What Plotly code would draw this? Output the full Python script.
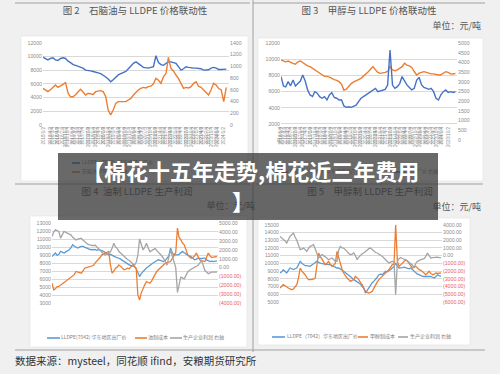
import plotly.graph_objects as go
import pandas as pd

# ---------------- data ----------------
# 图2: LLDPE (left, 元/吨) vs naphtha (right, 美元/吨), monthly 2018-01 .. 2024-02
months_fig2 = pd.date_range("2018-01-01", periods=74, freq="MS")
lldpe_fig2 = [
    9900, 9700, 9500, 9700, 9800, 9500, 9400, 9700, 9800, 9700, 9300, 9100,
    8800, 8700, 8600, 8500, 8300, 8000, 8000, 7900, 7800, 7750, 7600, 7500,
    7300, 7000, 6700, 6300, 6600, 7000, 7300, 7500, 7600, 7800, 8200, 8600,
    9000, 9200, 9000, 8700, 8400, 8300, 8300, 8400, 8500, 10100, 9100, 8800,
    8700, 9000, 9200, 9200, 9100, 9000, 8500, 8000, 8200, 8500, 8400, 8300,
    8300, 8300, 8300, 8200, 8000, 8000, 8050, 8300, 8400, 8300, 8100, 8100,
    8100, 8150,
]
naphtha_fig2 = [
    624, 600, 567, 600, 640, 680, 640, 660, 690, 720, 540, 480,
    480, 520, 560, 607, 560, 510, 540, 530, 520, 567, 580, 585,
    567, 480, 255, 170, 255, 368, 397, 400, 390, 397, 425, 453,
    510, 560, 595, 624, 640, 630, 652, 660, 700, 794, 760, 709,
    822, 879, 1151, 964, 920, 850, 794, 709, 624, 640, 630, 652,
    709, 737, 660, 640, 595, 540, 510, 600, 709, 680, 620, 600,
    397, 640,
]

# 图3: LLDPE (left) vs methanol (right), monthly 2018-01 .. 2024-01
months_fig3 = pd.date_range("2018-01-01", periods=73, freq="MS")
lldpe_fig3 = [
    9930, 9800, 9700, 9800, 9600, 9500, 9400, 9700, 9800, 9600, 9300, 9200,
    9100, 8900, 8700, 8600, 8300, 8100, 7900, 7900, 7800, 7700, 7500, 7400,
    7240, 6900, 6200, 6300, 6700, 7000, 7200, 7400, 7500, 7650, 7900, 8200,
    8480, 8800, 9100, 8700, 8400, 8270, 8300, 8400, 8500, 9100, 8700, 8600,
    8700, 8900, 9100, 9520, 9300, 9200, 9000, 8500, 8070, 8300, 8400, 8480,
    8400, 8300, 8200, 8200, 8100, 8070, 8100, 8300, 8480, 8400, 8200, 8190,
    8270,
]
methanol_fig3 = [
    3280, 2790, 2750, 3020, 2800, 3100, 2790, 2900, 3050, 3360, 3050, 2590,
    2330, 2250, 2500, 2420, 2240, 2160, 2240, 2070, 2330, 2450, 2200, 2160,
    2070, 2070, 1760, 1690, 1720, 1690, 1760, 1800, 1980, 2160, 2240, 2330,
    2380, 2500, 2590, 2670, 2500, 2550, 2590, 2620, 2840, 4655, 2840, 2670,
    2760, 2930, 3280, 3020, 2850, 2720, 2590, 2670, 3100, 3240, 2850, 2720,
    2670, 2620, 2670, 2500, 2160, 2070, 2330, 2500, 2590, 2460, 2500, 2460,
    2500,
]

# 图4 / 图5: monthly 2016-01 .. 2024-01
months_fig45 = pd.date_range("2016-01-01", periods=97, freq="MS")
lldpe_fig4 = [
    8830, 9000, 9250, 8960, 9100, 9460, 9350, 9250, 9400, 9500, 9670, 9900,
    10290, 10100, 9950, 9875, 10000, 10100, 10080, 9950, 9875, 9800, 9700, 9650,
    9670, 9700, 9600, 9670, 9650, 9550, 9460, 9300, 9200, 9040, 9100, 8950,
    8830, 8750, 8700, 8620, 8500, 8350, 8200, 8000, 7900, 7790, 7700, 7650,
    7580, 7300, 6700, 6330, 6700, 7000, 7170, 7400, 7600, 7790, 7900, 8050,
    8200, 8300, 8420, 8350, 8250, 8200, 8350, 8620, 8900, 9875, 9300, 9040,
    9000, 9040, 9100, 9300, 9460, 9300, 9120, 9000, 8900, 8830, 8600, 8420,
    8500, 8620, 8600, 8550, 8620, 8620, 8400, 8300, 8200, 8250, 8200, 8250,
    8280,
]
oil_cost_fig4 = [
    5500, 4670, 4800, 5080, 5100, 5300, 5500, 5600, 5750, 5920, 6000, 6150,
    6330, 6600, 6960, 6900, 6850, 6750, 7000, 7375, 7450, 7500, 7580, 7650,
    7700, 8000, 8200, 8420, 8700, 9040, 9150, 9250, 9400, 9460, 7790, 6750,
    7000, 7375, 7500, 7790, 7600, 7400, 7170, 7250, 7375, 7300, 7500, 7790,
    7600, 7375, 4040, 3420, 4300, 4880, 5300, 5710, 5600, 5500, 5800, 6125,
    6600, 7000, 7170, 7375, 7500, 7800, 8000, 8100, 8200, 8200, 8600, 9040,
    9300, 12375, 11200, 10900, 10500, 10290, 9600, 9040, 8800, 8620, 8700, 8900,
    9250, 8900, 8420, 8300, 8250, 8200, 8700, 9250, 8900, 8700, 8750, 8800,
    8830,
]
profit_fig4 = [
    3480, 4000, 4240, 4100, 4050, 3300, 3700, 4050, 3950, 3860, 3750, 3670,
    3400, 3200, 3100, 3200, 3250, 3300, 3100, 2920, 2700, 2600, 2540, 2500,
    2450, 2540, 2300, 2150, 1970, 1700, 1500, 1400, 1500, 1600, 1780, 2200,
    2730, 2300, 2160, 1800, 1600, 1400, 1200, 1020, 900, 800, 640, 500,
    270, 600, 1400, 3220, 2500, 1970, 2300, 2730, 2200, 1780, 1900, 2050,
    2160, 1900, 1700, 1590, 1300, 1020, 600, 270, 1200, 1970, 1300, 640,
    0, -2770, -1800, -1060, -1150, -1250, -900, -490, -300, -200, -110, 0,
    100, 270, 500, 830, 300, -300, -500, -680, -600, -490, -500, -500,
    -490,
]
lldpe_fig5 = [
    8750, 8900, 9180, 9000, 8750, 9100, 9400, 9300, 9200, 9300, 9400, 9800,
    10260, 10000, 9830, 9700, 9700, 9650, 9610, 9800, 9900, 10100, 10260, 10100,
    10040, 9950, 9900, 9850, 9830, 9830, 9830, 9700, 9610, 9500, 9400, 9400,
    9300, 9100, 8970, 8800, 8700, 8530, 8300, 8100, 7890, 7700, 7600, 7460,
    7300, 7000, 6810, 6160, 6500, 6900, 7240, 7500, 7700, 7890, 8200, 8530,
    8600, 8530, 8700, 8970, 8900, 9000, 9200, 9400, 9600, 10040, 9600, 9400,
    9400, 9450, 9500, 9450, 9400, 9300, 9400, 9200, 8970, 8800, 8600, 8530,
    8400, 8320, 8300, 8300, 8320, 8300, 8320, 8200, 8100, 8300, 8530, 8400,
    8320,
]
mto_cost_fig5 = [
    6810, 7000, 7240, 7100, 6900, 6810, 6700, 6590, 6700, 6900, 7240, 8100,
    9400, 9000, 8800, 8530, 8200, 7890, 7890, 7890, 7950, 8100, 9500, 11340,
    10900, 10470, 10100, 9830, 10000, 10260, 9900, 9610, 9800, 10000, 11550, 10690,
    10000, 9200, 8750, 8400, 8100, 7900, 7670, 7800, 7900, 8320, 8100, 7900,
    7500, 7240, 6800, 6380, 6250, 6160, 6250, 6380, 6800, 7240, 7600, 7890,
    8100, 8320, 8500, 8750, 8950, 9180, 9500, 9830, 9900, 15000, 10260, 9610,
    9800, 10040, 10200, 10470, 10300, 10040, 9700, 9400, 9500, 9610, 9400, 9180,
    9100, 8970, 8750, 8530, 8700, 8970, 8700, 8530, 8600, 8750, 8700, 8700,
    8750,
]
profit_fig5 = [
    2490, 2300, 2190, 1900, 1630, 2100, 2490, 2700, 2920, 2400, 2000, 1400,
    770, 850, 980, 800, 550, 900, 1200, 1300, 1410, 900, 300, -310,
    -100, 120, 0, -100, -300, -530, -400, -300, -500, -740, -740, 700,
    1200, 1000, 980, 800, 550, 300, 120, 200, 340, 0, -530, -200,
    100, 250, 340, 550, 770, 900, 980, 800, 550, 400, 340, 200,
    100, -100, -300, -530, -700, -960, -850, -740, -800, -5050, -740, -400,
    -250, -400, -500, -600, -700, -850, -960, -1200, -1600, -1000, -740, -600,
    -530, -450, -400, -100, 340, 0, -300, -250, -200, -200, -200, -250,
    -300,
]

# tick labels
tick_months_fig2 = pd.date_range("2018-01-01", periods=25, freq="3MS")
tick_labels_fig2 = [f"{d.year}/{d.month}/2" for d in tick_months_fig2]
tick_months_fig3 = pd.date_range("2018-01-01", periods=24, freq="3MS")
tick_labels_fig3 = [f"{d.year}/{d.month}/2" for d in tick_months_fig3]
tick_months_fig45 = pd.date_range("2016-01-01", periods=33, freq="3MS")
tick_labels_fig45 = [f"{d.year}/{d.month}/4" for d in tick_months_fig45]

right_vals_fig4 = list(range(-4000, 5001, 1000))
right_vals_fig5 = list(range(-6000, 4001, 1000))

# ---------------- styling helpers ----------------
W, H = 500, 374
def px(x): return x / W
def py(y): return 1 - y / H

BLUE_D = "#4472c4"
BLUE_L = "#5b9bd5"
ORANGE = "#ed7d31"
GRAY = "#a5a5a5"
TICKC = "#8c8c8c"
TFONT = "Liberation Sans"
CJK = "Noto Sans CJK SC"

def fmt_right(v):
    if v < 0:
        return f"<span style='color:#e8615f'>({abs(v):.2f})</span>"
    return f"{v:.2f}"

fig = go.Figure()

# ---- chart traces ----
fig.add_trace(go.Scatter(x=months_fig2, y=lldpe_fig2, mode="lines", line=dict(color=BLUE_D, width=1.4),
                         xaxis="x", yaxis="y", name="LLDPE"))
fig.add_trace(go.Scatter(x=months_fig2, y=naphtha_fig2, mode="lines", line=dict(color=ORANGE, width=1.4),
                         xaxis="x", yaxis="y2", name="石脑油"))
fig.add_trace(go.Scatter(x=months_fig3, y=lldpe_fig3, mode="lines", line=dict(color=ORANGE, width=1.4),
                         xaxis="x2", yaxis="y3", name="LLDPE"))
fig.add_trace(go.Scatter(x=months_fig3, y=methanol_fig3, mode="lines", line=dict(color=BLUE_D, width=1.4),
                         xaxis="x2", yaxis="y4", name="甲醇"))
fig.add_trace(go.Scatter(x=months_fig45, y=lldpe_fig4, mode="lines", line=dict(color=BLUE_L, width=1.3),
                         xaxis="x3", yaxis="y5", name="LLDPE(7042) 华东地区出厂价"))
fig.add_trace(go.Scatter(x=months_fig45, y=oil_cost_fig4, mode="lines", line=dict(color=ORANGE, width=1.3),
                         xaxis="x3", yaxis="y5", name="油制成本"))
fig.add_trace(go.Scatter(x=months_fig45, y=profit_fig4, mode="lines", line=dict(color=GRAY, width=1.3),
                         xaxis="x3", yaxis="y6", name="生产企业利润 右轴"))
fig.add_trace(go.Scatter(x=months_fig45, y=lldpe_fig5, mode="lines", line=dict(color=BLUE_L, width=1.3),
                         xaxis="x4", yaxis="y7", name="LLDPE（7042）华东地区出厂价"))
fig.add_trace(go.Scatter(x=months_fig45, y=mto_cost_fig5, mode="lines", line=dict(color=ORANGE, width=1.3),
                         xaxis="x4", yaxis="y7", name="甲醇制成本"))
fig.add_trace(go.Scatter(x=months_fig45, y=profit_fig5, mode="lines", line=dict(color=GRAY, width=1.3),
                         xaxis="x4", yaxis="y8", name="生产企业利润 右轴"))

# ---- page texts (drawn as text on a hidden full-page axis so the banner covers them) ----
def add_text(x, y, text, size, color, pos, family=CJK):
    fig.add_trace(go.Scatter(x=[x], y=[y], mode="text", text=[text], textposition=pos,
                             textfont=dict(size=size, color=color, family=family),
                             xaxis="x5", yaxis="y9", hoverinfo="skip", cliponaxis=False))

TITLE_C = "#555555"
add_text(135, 12, "图 2　石脑油与 LLDPE 价格联动性", 9.5, TITLE_C, "middle center")
add_text(369, 12, "图 3　甲醇与 LLDPE 价格联动性", 9.5, TITLE_C, "middle center")
add_text(481, 27, "单位：元/吨", 9, TITLE_C, "middle left")
add_text(137, 193, "图 4  油制 LLDPE 生产利润", 9.5, TITLE_C, "middle center")
add_text(255, 207, "单位：元/吨", 9, TITLE_C, "middle left")
add_text(370, 193, "图 5　甲醇制 LLDPE 生产利润", 9.5, TITLE_C, "middle center")
add_text(481, 208, "单位：元/吨", 9, TITLE_C, "middle left")
add_text(15, 362, "数据来源：mysteel，同花顺 ifind，安粮期货研究所", 10.5, "#333333", "middle right")

LEG_C = "#7f7f7f"
# legends
add_text(82, 163, "LLDPE（7042）华东地区出厂价", 5, LEG_C, "middle right")
add_text(82, 172, "石脑油CFR日本 右轴", 5, LEG_C, "middle right")
add_text(290, 172, "LLDPE（7042）华东地区出厂价", 5, LEG_C, "middle right")
add_text(402, 172, "甲醇出厂价 右轴", 5, LEG_C, "middle right")
add_text(61, 338, "LLDPE(7042) 华东地区出厂价", 5, LEG_C, "middle right")
add_text(148, 338, "油制成本", 5, LEG_C, "middle right")
add_text(183, 338, "生产企业利润 右轴", 5, LEG_C, "middle right")
add_text(287, 337, "LLDPE（7042）华东地区出厂价", 5, LEG_C, "middle right")
add_text(370, 337, "甲醇制成本", 5, LEG_C, "middle right")
add_text(410, 337, "生产企业利润 右轴", 5, LEG_C, "middle right")

# ---- shapes ----
shapes = []
def line(x0, y0, x1, y1, color, width, layer="below"):
    shapes.append(dict(type="line", xref="paper", yref="paper", x0=px(x0), y0=py(y0), x1=px(x1), y1=py(y1),
                       line=dict(color=color, width=width), layer=layer))
def rect(x0, y0, x1, y1, fill, lc="rgba(0,0,0,0)", lw=0, layer="below"):
    shapes.append(dict(type="rect", xref="paper", yref="paper", x0=px(x0), y0=py(y0), x1=px(x1), y1=py(y1),
                       fillcolor=fill, line=dict(color=lc, width=lw), layer=layer))

SEP = "#a0a0a0"
line(15, 3, 250, 3, SEP, 1)
line(253, 3, 485, 3, SEP, 1)
line(253, 0, 253, 352, SEP, 1)
line(15, 184, 250, 184, SEP, 1)
line(256, 184, 483, 184, SEP, 1)
line(15, 350, 485, 350, SEP, 1)
rect(21, 36, 248, 181, "white", "#e3e3e3", 0.6)
rect(258, 38, 483, 181, "white", "#e3e3e3", 0.6)
rect(30, 216, 247, 347, "white", "#e3e3e3", 0.6)
rect(258, 218, 470, 345, "white", "#e3e3e3", 0.6)
# legend swatches
line(72, 163, 80, 163, BLUE_D, 1.6)
line(72, 172, 80, 172, ORANGE, 1.6)
line(276, 172, 288, 172, ORANGE, 1.6)
line(390, 172, 400, 172, BLUE_D, 1.6)
line(47, 338, 60, 338, BLUE_L, 1.6)
line(135, 338, 147, 338, ORANGE, 1.6)
line(170, 338, 182, 338, GRAY, 1.6)
line(272, 337, 285, 337, BLUE_L, 1.6)
line(358, 337, 368, 337, ORANGE, 1.6)
line(398, 337, 408, 337, GRAY, 1.6)
# overlay banner
rect(58, 153, 438, 220, "rgba(58,58,58,0.76)", layer="above")

# ---- axes ----
def xax(dom, rng, tv, tt):
    return dict(domain=[px(dom[0]), px(dom[1])], range=rng, type="date", showgrid=False, zeroline=False,
                showline=False, ticks="", tickvals=list(tv), ticktext=tt, tickangle=-90,
                tickfont=dict(size=4.5, color=TICKC, family=TFONT), automargin=False, fixedrange=True)

def yleft(dom, rng, dtick, anchor):
    return dict(domain=[py(dom[1]), py(dom[0])], range=rng, dtick=dtick, tick0=0, tickformat="d",
                showgrid=True, gridcolor="#d9d9d9", gridwidth=0.7, zeroline=False, showline=False, ticks="",
                tickfont=dict(size=5.2, color=TICKC, family=TFONT), anchor=anchor, automargin=False,
                fixedrange=True)

def yright(overlay, rng, anchor, dtick=None, tv=None, tt=None):
    d = dict(overlaying=overlay, side="right", range=rng, showgrid=False, zeroline=False, showline=False,
             ticks="", tickfont=dict(size=5.2, color=TICKC, family=TFONT), anchor=anchor, automargin=False,
             fixedrange=True)
    if tv is not None:
        d.update(tickvals=tv, ticktext=tt)
    else:
        d.update(dtick=dtick, tick0=0, tickformat="d")
    return d

fig.update_layout(
    width=W, height=H, autosize=False,
    margin=dict(l=0, r=0, t=0, b=0, pad=0),
    paper_bgcolor="#f0f0f0", plot_bgcolor="rgba(0,0,0,0)",
    showlegend=False, hovermode=False,
    shapes=shapes,
    xaxis=xax((43, 229), ["2018-01-01", "2024-03-05"], tick_months_fig2 + pd.Timedelta(days=1), tick_labels_fig2),
    yaxis=yleft((42.7, 125), [0, 12000], 2000, "x"),
    yaxis2=yright("y", [0, 1400], "x", dtick=200),
    xaxis2=xax((281, 457), ["2018-01-01", "2024-01-20"], tick_months_fig3 + pd.Timedelta(days=1), tick_labels_fig3),
    yaxis3=yleft((43.3, 140), [0, 12000], 2000, "x2"),
    yaxis4=yright("y3", [0, 5000], "x2", dtick=500),
    xaxis3=xax((52, 218), ["2016-01-01", "2024-01-20"], tick_months_fig45 + pd.Timedelta(days=3), tick_labels_fig45),
    yaxis5=yleft((223, 303.3), [3000, 13000], 1000, "x3"),
    yaxis6=yright("y5", [-4000, 5000], "x3", tv=right_vals_fig4, tt=[fmt_right(v) for v in right_vals_fig4]),
    xaxis4=xax((280, 442), ["2016-01-01", "2024-01-20"], tick_months_fig45 + pd.Timedelta(days=3), tick_labels_fig45),
    yaxis7=yleft((224.7, 302), [5000, 15000], 1000, "x4"),
    yaxis8=yright("y7", [-6000, 4000], "x4", tv=right_vals_fig5, tt=[fmt_right(v) for v in right_vals_fig5]),
    xaxis5=dict(domain=[0, 1], range=[0, W], visible=False, anchor="y9", fixedrange=True),
    yaxis9=dict(domain=[0, 1], range=[H, 0], visible=False, anchor="x5", fixedrange=True),
    annotations=[
        dict(x=px(250), y=py(170), xref="paper", yref="paper", showarrow=False,
             text="<b>【棉花十五年走势,棉花近三年费用</b>",
             font=dict(size=22, color="white", family=CJK), xanchor="center", yanchor="middle"),
        dict(x=px(243), y=py(200), xref="paper", yref="paper", showarrow=False,
             text="<b>】</b>", font=dict(size=22, color="white", family=CJK),
             xanchor="center", yanchor="middle"),
    ],
)

fig.write_html("out.html", config={"displayModeBar": False},
               post_script="document.body.style.margin='0';document.body.style.overflow='hidden';")
